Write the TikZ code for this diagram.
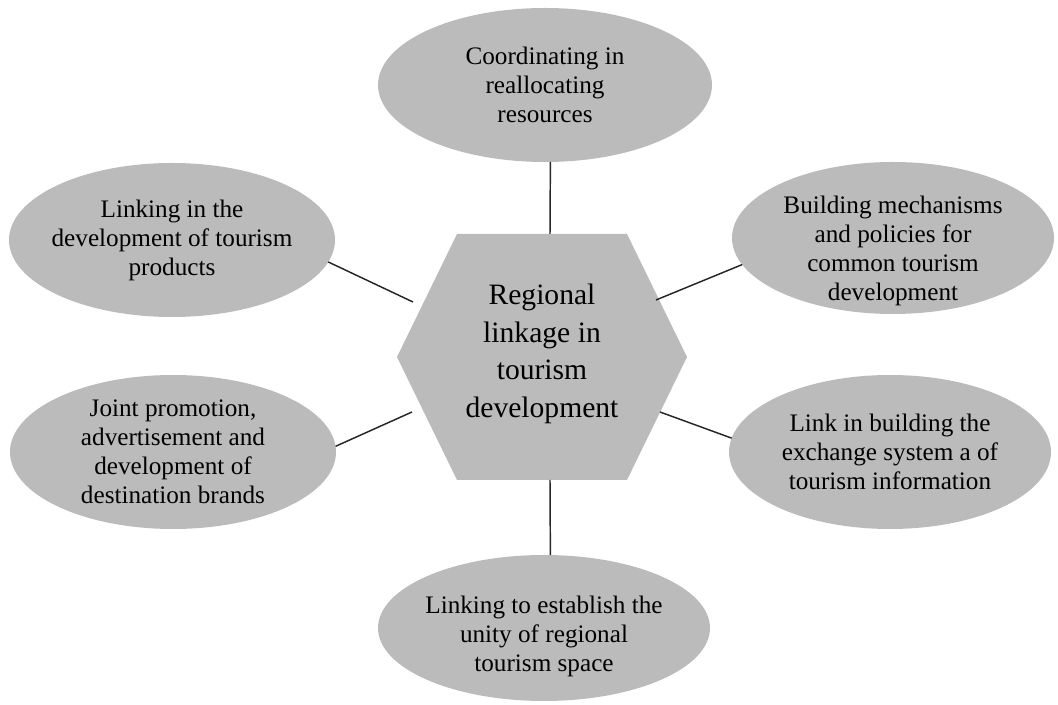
\documentclass[tikz,border=0pt]{standalone}
\usepackage{fontspec}
\setmainfont{Liberation Serif}
\usepackage{tikz}
\usetikzlibrary{shapes.geometric}
\definecolor{boxgrey}{RGB}{187,187,187}
\tikzstyle{bubble} = [ellipse, fill=boxgrey, minimum width=244.5pt, minimum height=115.5pt, inner xsep=-8pt, inner ysep=-15pt, outer sep=0pt, align=center, font=\fontsize{18.9}{21.75}\selectfont]
\tikzstyle{link} = [line width=1.1pt, color=black!85]

\begin{document}
\begin{tikzpicture}[x=0.75pt, y=-0.75pt]
\useasboundingbox (0,0) rectangle (1058,705);
% hexagon in the middle
\fill[boxgrey] (397,357) -- (457,234) -- (627,234) -- (687,357) -- (627,480) -- (457,480) -- cycle;
\node (hub) [align=center, font=\fontsize{22.2}{28.3}\selectfont] at (542,354) {Regional\\linkage in\\tourism\\development};

% the six ellipses
\node (crd) [bubble, minimum width=250.5pt] at (545,85) {Coordinating in\\reallocating\\resources};
\node (prod) [bubble] at (172,240) {Linking in the\\development of tourism\\products};
\node (policy) [bubble, minimum width=241.5pt, minimum height=114pt] at (893,238) {\rule{0pt}{33pt}Building mechanisms\\and policies for\\common tourism\\development};
\node (promo) [bubble] at (173,452) {Joint promotion,\\advertisement and\\development of\\destination brands};
\node (info) [bubble, minimum width=241.5pt] at (890,452) {Link in building the\\exchange system a of\\tourism information};
\node (space) [bubble, minimum width=249pt, minimum height=109.5pt] at (544,628) {\rule{0pt}{26pt}Linking to establish the\\unity of regional\\tourism space};

% links to the hexagon
\draw[link] (crd.-86) -- ([shift={(8,-120)}]hub.center);
\draw[link] (prod.-8) -- ([shift={(-129,-52)}]hub.center);
\draw[link] (policy.-170) -- ([shift={(114,-54)}]hub.center);
\draw[link] (promo.2) -- ([shift={(-130,58)}]hub.center);
\draw[link] (info.175) -- ([shift={(118,58)}]hub.center);
\draw[link] (space.85) -- ([shift={(8,126)}]hub.center);
\end{tikzpicture}
\end{document}
